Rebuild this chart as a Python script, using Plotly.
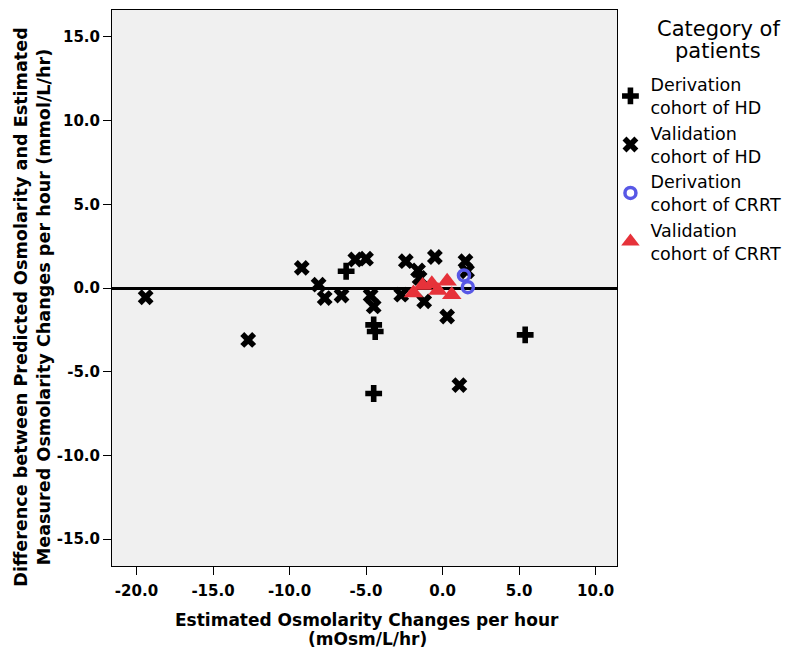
import plotly.graph_objects as go

# Derivation cohort of HD (+)
der_hd_x = [-6.3, -4.5, -4.4, -4.5, 5.4]
der_hd_y = [1.0, -2.2, -2.6, -6.3, -2.8]

# Validation cohort of HD (x)
val_hd_x = [-19.4, -12.7, -9.2, -8.1, -7.7, -6.6, -5.7, -5.0, -4.7, -4.5,
            -2.7, -2.4, -1.6, -1.5, -1.2, -0.5, 0.3, 1.1, 1.5, 1.6]
val_hd_y = [-0.55, -3.1, 1.2, 0.2, -0.6, -0.45, 1.7, 1.75, -0.45, -1.1,
            -0.4, 1.6, 1.05, 0.6, -0.8, 1.85, -1.7, -5.8, 1.6, 1.0]

# Derivation cohort of CRRT (open circles)
der_crrt_x = [1.4, 1.65]
der_crrt_y = [0.75, 0.05]

# Validation cohort of CRRT (triangles)
val_crrt_x = [-1.9, -1.3, -0.7, -0.3, 0.3, 0.6]
val_crrt_y = [-0.3, 0.15, 0.25, -0.15, 0.4, -0.4]

x_tickvals = [-20, -15, -10, -5, 0, 5, 10]
x_ticktext = ["-20.0", "-15.0", "-10.0", "-5.0", "0.0", "5.0", "10.0"]
y_tickvals = [-15, -10, -5, 0, 5, 10, 15]
y_ticktext = ["-15.0", "-10.0", "-5.0", "0.0", "5.0", "10.0", "15.0"]

names = ["Derivation<br>cohort of HD", "Validation<br>cohort of HD",
         "Derivation<br>cohort of CRRT", "Validation<br>cohort of CRRT"]
legend_title_lines = ["Category of", "patients"]
x_title_lines = ["<b>Estimated Osmolarity Changes per hour</b>", "<b>(mOsm/L/hr)</b>"]
y_title = ("<b>Difference between Predicted Osmolarity and Estimated<br>"
           "Measured Osmolarity Changes per hour (mmol/L/hr)</b>")

fig = go.Figure()
fig.add_trace(go.Scatter(x=der_hd_x, y=der_hd_y, mode="markers", name=names[0],
                         marker=dict(symbol="cross", size=14, color="black",
                                     line=dict(width=0))))
fig.add_trace(go.Scatter(x=val_hd_x, y=val_hd_y, mode="markers", name=names[1],
                         marker=dict(symbol="x", size=14, color="black",
                                     line=dict(width=0))))
fig.add_trace(go.Scatter(x=der_crrt_x, y=der_crrt_y, mode="markers", name=names[2],
                         marker=dict(symbol="circle-open", size=11, color="#5858e6",
                                     line=dict(width=3.5, color="#5858e6"))))
fig.add_trace(go.Scatter(x=val_crrt_x, y=val_crrt_y, mode="markers", name=names[3],
                         marker=dict(symbol="triangle-up", size=17, color="#e6323a",
                                     line=dict(width=0))))

bold_font = "DejaVu Sans"

# legend title as centred text lines
for i, line in enumerate(legend_title_lines):
    fig.add_annotation(text=line, xref="paper", yref="paper",
                       x=1.2, y=0.965 - i * 0.038, xanchor="center", yanchor="middle",
                       showarrow=False,
                       font=dict(size=21, family="DejaVu Sans", color="black"))

# x-axis title lines
for i, line in enumerate(x_title_lines):
    fig.add_annotation(text=line, xref="paper", yref="paper",
                       x=0.505, y=-0.097 - i * 0.034, xanchor="center", yanchor="middle",
                       showarrow=False,
                       font=dict(size=17, family=bold_font, color="black"))

# y-axis title
fig.add_annotation(text=y_title, xref="paper", yref="paper",
                   x=-0.158, y=0.465, xanchor="center", yanchor="middle",
                   textangle=-90, showarrow=False, align="center",
                   font=dict(size=17.6, family=bold_font, color="black"))

fig.update_layout(
    width=809, height=649,
    margin=dict(l=104, r=200, t=2, b=91),
    paper_bgcolor="white",
    plot_bgcolor="#f0f0f0",
    font=dict(family="DejaVu Sans", color="black"),
    showlegend=True,
    legend=dict(
        x=0.987, y=0.898, xanchor="left", yanchor="top",
        bgcolor="rgba(0,0,0,0)",
        font=dict(size=17.5, color="black", family="DejaVu Sans"),
        tracegroupgap=0,
        itemsizing="trace",
    ),
    xaxis=dict(
        range=[-21.6, 11.4],
        tickvals=x_tickvals, ticktext=x_ticktext,
        showgrid=False, zeroline=False,
        showline=True, mirror=True, linecolor="black", linewidth=1,
        ticks="outside", ticklen=8, tickcolor="black", tickwidth=1,
        ticklabelstandoff=3,
        tickfont=dict(size=15, family=bold_font, weight="bold"),
    ),
    yaxis=dict(
        range=[-16.6, 16.6],
        tickvals=y_tickvals, ticktext=y_ticktext,
        showgrid=False,
        zeroline=True, zerolinecolor="black", zerolinewidth=2.5,
        showline=True, mirror=True, linecolor="black", linewidth=1,
        ticks="outside", ticklen=8, tickcolor="black", tickwidth=1,
        tickfont=dict(size=15, family=bold_font, weight="bold"),
    ),
)

fig.write_html("out.html")
